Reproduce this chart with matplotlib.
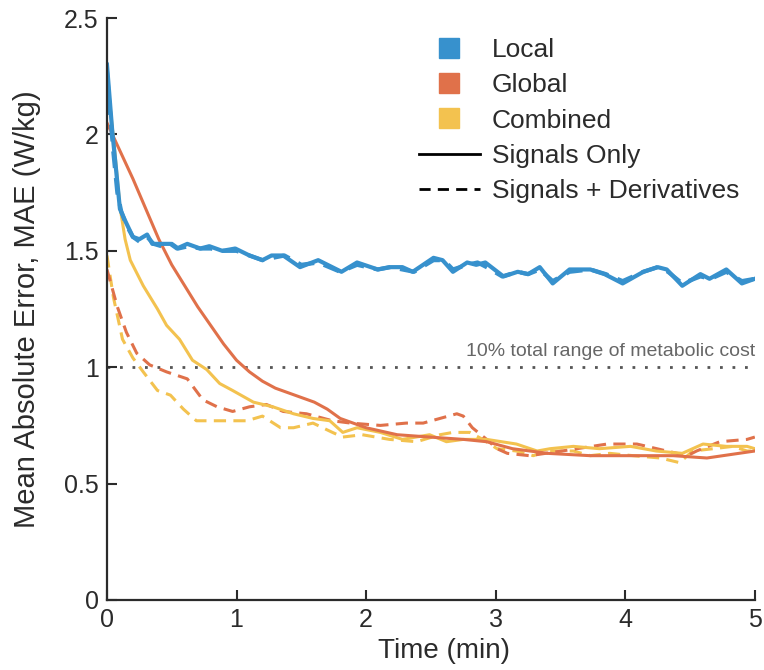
import matplotlib.pyplot as plt
from matplotlib.lines import Line2D

plt.rcParams['font.family'] = ['Liberation Sans', 'DejaVu Sans']

# Local, signals only
local_t = [0.00, 0.04, 0.10, 0.14, 0.20, 0.25, 0.31, 0.35, 0.41, 0.49, 0.54, 0.62, 0.72, 0.79,
           0.89, 0.99, 1.10, 1.20, 1.27, 1.36, 1.49, 1.63, 1.81, 1.93, 2.09, 2.18, 2.28, 2.36,
           2.52, 2.59, 2.67, 2.78, 2.85, 2.92, 3.06, 3.17, 3.25, 3.34, 3.44, 3.57, 3.73, 3.84,
           3.98, 4.14, 4.25, 4.32, 4.44, 4.58, 4.65, 4.78, 4.90, 5.00]
local_y = [2.30, 2.02, 1.68, 1.63, 1.56, 1.55, 1.57, 1.53, 1.53, 1.53, 1.51, 1.53, 1.51, 1.52,
           1.50, 1.51, 1.48, 1.46, 1.48, 1.48, 1.43, 1.46, 1.41, 1.45, 1.42, 1.43, 1.43, 1.41,
           1.47, 1.46, 1.41, 1.45, 1.44, 1.45, 1.39, 1.41, 1.40, 1.43, 1.36, 1.42, 1.42, 1.40,
           1.36, 1.41, 1.43, 1.42, 1.35, 1.40, 1.38, 1.42, 1.36, 1.38]

# Local, signals + derivatives
local_d_t = [0.00, 0.02, 0.05, 0.08, 0.11, 0.15, 0.20, 0.25, 0.31, 0.36, 0.42, 0.50, 0.55, 0.63,
             0.72, 0.80, 0.90, 1.00, 1.10, 1.20, 1.28, 1.37, 1.50, 1.63, 1.80, 1.93, 2.09, 2.19,
             2.28, 2.37, 2.52, 2.60, 2.67, 2.78, 2.86, 2.93, 3.05, 3.17, 3.25, 3.34, 3.44, 3.57,
             3.73, 3.85, 3.98, 4.14, 4.25, 4.33, 4.44, 4.58, 4.66, 4.78, 4.90, 5.00]
local_d_y = [2.27, 2.12, 1.92, 1.75, 1.67, 1.61, 1.56, 1.54, 1.56, 1.53, 1.52, 1.53, 1.51, 1.52,
             1.51, 1.51, 1.50, 1.50, 1.48, 1.46, 1.47, 1.48, 1.44, 1.45, 1.41, 1.44, 1.42, 1.43,
             1.42, 1.41, 1.46, 1.46, 1.42, 1.44, 1.45, 1.43, 1.39, 1.41, 1.40, 1.42, 1.37, 1.41,
             1.42, 1.40, 1.37, 1.41, 1.43, 1.41, 1.36, 1.39, 1.38, 1.41, 1.37, 1.38]

# Global, signals only
global_t = [0.00, 0.05, 0.10, 0.20, 0.30, 0.40, 0.50, 0.60, 0.70, 0.80, 0.90, 1.00, 1.10, 1.20,
            1.30, 1.40, 1.50, 1.60, 1.70, 1.80, 1.90, 2.00, 2.24, 2.49, 2.75, 2.93, 3.13, 3.40,
            3.73, 4.12, 4.37, 4.63, 5.00]
global_y = [2.05, 1.99, 1.93, 1.81, 1.68, 1.55, 1.44, 1.35, 1.26, 1.18, 1.10, 1.03, 0.98, 0.94,
            0.91, 0.89, 0.87, 0.85, 0.82, 0.78, 0.76, 0.74, 0.71, 0.70, 0.69, 0.68, 0.65, 0.63,
            0.62, 0.62, 0.62, 0.61, 0.64]

# Global, signals + derivatives
global_d_t = [0.00, 0.08, 0.15, 0.23, 0.33, 0.46, 0.62, 0.74, 0.85, 0.97, 1.10, 1.23, 1.36, 1.54,
              1.74, 1.88, 2.11, 2.31, 2.44, 2.57, 2.70, 2.75, 2.82, 2.93, 3.01, 3.09, 3.26, 3.51,
              3.86, 4.09, 4.32, 4.48, 4.55, 4.73, 4.94, 5.00]
global_d_y = [1.42, 1.26, 1.15, 1.06, 1.01, 0.98, 0.95, 0.86, 0.83, 0.81, 0.83, 0.84, 0.81, 0.80,
              0.77, 0.76, 0.75, 0.76, 0.76, 0.78, 0.80, 0.79, 0.74, 0.69, 0.65, 0.63, 0.62, 0.64,
              0.67, 0.67, 0.64, 0.62, 0.64, 0.68, 0.69, 0.70]

# Combined, signals only
comb_t = [0.00, 0.06, 0.10, 0.14, 0.18, 0.28, 0.39, 0.46, 0.56, 0.66, 0.77, 0.87, 0.97, 1.13,
          1.28, 1.44, 1.59, 1.72, 1.82, 1.93, 2.11, 2.28, 2.49, 2.62, 2.75, 2.93, 3.16, 3.32,
          3.42, 3.60, 3.80, 4.04, 4.24, 4.44, 4.60, 4.78, 4.94, 5.00]
comb_y = [2.25, 1.93, 1.69, 1.55, 1.46, 1.35, 1.25, 1.18, 1.12, 1.03, 0.99, 0.93, 0.90, 0.85,
          0.83, 0.80, 0.78, 0.77, 0.72, 0.74, 0.72, 0.69, 0.71, 0.68, 0.69, 0.69, 0.67, 0.64,
          0.65, 0.66, 0.65, 0.66, 0.64, 0.63, 0.67, 0.66, 0.66, 0.65]

# Combined, signals + derivatives
comb_d_t = [0.00, 0.05, 0.12, 0.20, 0.28, 0.39, 0.49, 0.59, 0.69, 0.82, 0.97, 1.08, 1.20, 1.34,
            1.44, 1.59, 1.74, 1.82, 1.97, 2.18, 2.39, 2.57, 2.67, 2.80, 2.90, 3.01, 3.16, 3.29,
            3.40, 3.60, 3.73, 3.88, 4.06, 4.27, 4.42, 4.52, 4.68, 4.83, 4.94, 5.00]
comb_d_y = [1.48, 1.30, 1.12, 1.04, 0.98, 0.90, 0.88, 0.82, 0.77, 0.77, 0.77, 0.77, 0.79, 0.74,
            0.74, 0.76, 0.72, 0.70, 0.71, 0.69, 0.68, 0.71, 0.72, 0.72, 0.69, 0.65, 0.64, 0.62,
            0.64, 0.64, 0.62, 0.63, 0.62, 0.61, 0.59, 0.64, 0.65, 0.66, 0.64, 0.64]

threshold = 1.0
threshold_label = "10% total range of metabolic cost"
x_ticks = [0, 1, 2, 3, 4, 5]
y_ticks = [0, 0.5, 1, 1.5, 2, 2.5]

c_local = '#3791CD'
c_global = '#E0714A'
c_comb = '#F3C24F'
ink = '#2b2b2b'

fig = plt.figure(figsize=(7.64, 6.70), dpi=100)
ax = fig.add_axes([0.140, 0.1045, 0.848, 0.8685])

dash = (0, (4, 2.4))
ax.plot([0, 5], [threshold, threshold], color='#555555', lw=2, linestyle=(0, (1, 3.5)), zorder=1)
ax.text(5.0, threshold + 0.03, threshold_label, ha='right', va='bottom', fontsize=14, color='#666666')

ax.plot(comb_d_t, comb_d_y, color=c_comb, lw=2.2, linestyle=dash)
ax.plot(global_d_t, global_d_y, color=c_global, lw=2.2, linestyle=dash)
ax.plot(comb_t, comb_y, color=c_comb, lw=2.2)
ax.plot(global_t, global_y, color=c_global, lw=2.2)
ax.plot(local_d_t, local_d_y, color=c_local, lw=3.0, linestyle=dash)
ax.plot(local_t, local_y, color=c_local, lw=3.0)

ax.set_xlim(0, 5)
ax.set_ylim(0, 2.5)
ax.set_xticks(x_ticks)
ax.set_yticks(y_ticks)
ax.set_xticklabels([f'{v:g}' for v in x_ticks])
ax.set_yticklabels([f'{v:g}' for v in y_ticks])
ax.tick_params(direction='in', length=7, width=1.5, colors=ink, labelsize=18, pad=6)
for side in ['top', 'right']:
    ax.spines[side].set_visible(False)
for side in ['left', 'bottom']:
    ax.spines[side].set_color(ink)
    ax.spines[side].set_linewidth(1.6)

ax.set_xlabel('Time (min)', fontsize=20, color=ink)
ax.set_ylabel('Mean Absolute Error, MAE (W/kg)', fontsize=21, color=ink)
ax.xaxis.set_label_coords(0.52, -0.065)
ax.yaxis.set_label_coords(-0.102, 0.5)

handles = [
    Line2D([], [], marker='s', linestyle='none', markersize=14.5, color=c_local),
    Line2D([], [], marker='s', linestyle='none', markersize=14.5, color=c_global),
    Line2D([], [], marker='s', linestyle='none', markersize=14.5, color=c_comb),
    Line2D([], [], color='black', lw=2),
    Line2D([], [], color='black', lw=2, linestyle=(0, (4, 2.6))),
]
labels = ['Local', 'Global', 'Combined', 'Signals Only', 'Signals + Derivatives']
fig.legend(handles, labels, loc='upper left', bbox_to_anchor=(419 / 764, 1 - 38 / 670),
           frameon=False, fontsize=19, handlelength=2.3, handletextpad=0.45,
           labelspacing=0.43, borderpad=0, borderaxespad=0, labelcolor=ink)

fig.savefig('out.png', dpi=100)
